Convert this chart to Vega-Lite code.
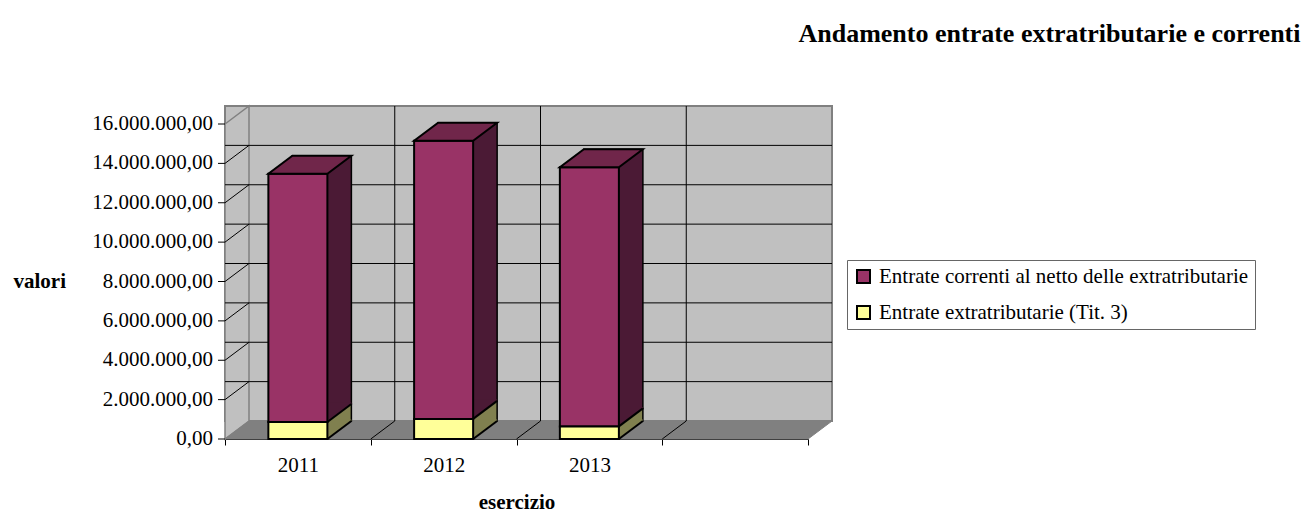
{
  "$schema": "https://vega.github.io/schema/vega-lite/v6.json",
  "width": 583,
  "height": 315,
  "autosize": {"type": "none"},
  "padding": {"left": 225, "top": 124, "right": 494, "bottom": 90},
  "background": "white",
  "config": {
    "view": {"stroke": null},
    "font": "Liberation Serif",
    "locale": {"number": {"decimal": ",", "thousands": ".", "grouping": [3], "currency": ["", " €"]}},
    "axisX": {
      "labelAngle": 0, "labelFont": "Liberation Serif", "labelFontSize": 21, "labelColor": "black", "labelPadding": 9,
      "titleFont": "Liberation Serif", "titleFontSize": 21, "titleFontWeight": "bold", "titleColor": "black", "titlePadding": 16,
      "tickBand": "extent", "tickSize": 6, "tickColor": "black", "domainColor": "black", "grid": false
    },
    "axisY": {
      "labels": false, "ticks": false,
      "titleFont": "Liberation Serif", "titleFontSize": 21, "titleFontWeight": "bold", "titleColor": "black",
      "domainColor": "black", "grid": false
    }
  },
  "title": {
    "text": "Andamento entrate extratributarie e correnti",
    "anchor": "end",
    "frame": "bounds",
    "font": "Liberation Serif",
    "fontSize": 26,
    "fontWeight": "bold",
    "color": "black",
    "dx": 45,
    "offset": 56
  },
  "datasets": {
    "bars": [
      {"year": "2011", "series": "Entrate correnti al netto delle extratributarie", "value": 12610000},
      {"year": "2011", "series": "Entrate extratributarie (Tit. 3)", "value": 860000},
      {"year": "2012", "series": "Entrate correnti al netto delle extratributarie", "value": 14130000},
      {"year": "2012", "series": "Entrate extratributarie (Tit. 3)", "value": 1020000},
      {"year": "2013", "series": "Entrate correnti al netto delle extratributarie", "value": 13160000},
      {"year": "2013", "series": "Entrate extratributarie (Tit. 3)", "value": 640000}
    ],
    "ticks": [{"v": 0}, {"v": 2000000}, {"v": 4000000}, {"v": 6000000}, {"v": 8000000}, {"v": 10000000}, {"v": 12000000}, {"v": 14000000}, {"v": 16000000}],
    "cats": [{"c": "2012"}, {"c": "2013"}, {"c": " "}],
    "base": [{"c": "2011"}]
  },
  "layer": [
    {
      "data": {"name": "base"},
      "mark": {"type": "rect", "xOffset": 24, "x2Offset": 24, "yOffset": -18, "y2Offset": -18, "fill": "#C0C0C0", "stroke": "#808080", "strokeWidth": 2},
      "encoding": {
        "y": {
          "datum": 0, "type": "quantitative", "scale": {"domain": [0, 16000000], "nice": false},
          "axis": {"title": "valori", "titleAngle": 0, "titleAlign": "left", "titleBaseline": "middle", "titleX": -212, "titleY": 157}
        },
        "y2": {"datum": 16000000}
      }
    },
    {
      "data": {"name": "base"},
      "mark": {"type": "point", "shape": "M-72.875,0 L-72.875,-315 L-48.875,-333 L-48.875,-18 Z", "size": 4, "filled": true, "opacity": 1, "fill": "#C0C0C0", "stroke": "#808080", "strokeWidth": 1.5},
      "encoding": {
        "x": {"field": "c", "type": "nominal", "scale": {"domain": ["2011", "2012", "2013", " "], "paddingInner": 0, "paddingOuter": 0}},
        "y": {"datum": 0, "type": "quantitative", "scale": {"domain": [0, 16000000], "nice": false}}
      }
    },
    {
      "data": {"name": "base"},
      "mark": {"type": "point", "shape": "M-72.875,0 L510.125,0 L534.125,-18 L-48.875,-18 Z", "size": 4, "filled": true, "opacity": 1, "fill": "#808080", "stroke": "#808080", "strokeWidth": 1},
      "encoding": {
        "x": {"field": "c", "type": "nominal", "scale": {"domain": ["2011", "2012", "2013", " "], "paddingInner": 0, "paddingOuter": 0}},
        "y": {"datum": 0, "type": "quantitative", "scale": {"domain": [0, 16000000], "nice": false}}
      }
    },
    {
      "data": {"name": "ticks"},
      "transform": [{"filter": "datum.v > 0 && datum.v < 16000000"}],
      "mark": {"type": "rule", "xOffset": 24, "x2Offset": 24, "yOffset": -18, "y2Offset": -18, "color": "black", "strokeWidth": 1},
      "encoding": {
        "y": {"field": "v", "type": "quantitative", "scale": {"domain": [0, 16000000], "nice": false}}
      }
    },
    {
      "data": {"name": "cats"},
      "mark": {"type": "rule", "xOffset": -48.875, "yOffset": -18, "y2Offset": -18, "color": "black", "strokeWidth": 1},
      "encoding": {
        "x": {"field": "c", "type": "nominal", "scale": {"domain": ["2011", "2012", "2013", " "], "paddingInner": 0, "paddingOuter": 0}},
        "y": {"datum": 0, "type": "quantitative", "scale": {"domain": [0, 16000000], "nice": false}},
        "y2": {"datum": 16000000}
      }
    },
    {
      "data": {"name": "ticks"},
      "transform": [{"filter": "datum.v > 0 && datum.v < 16000000"}],
      "mark": {"type": "point", "shape": "M-72.875,0 L-48.875,-18", "size": 4, "filled": false, "opacity": 1, "stroke": "black", "strokeWidth": 1},
      "encoding": {
        "x": {"datum": "2011", "type": "nominal", "scale": {"domain": ["2011", "2012", "2013", " "], "paddingInner": 0, "paddingOuter": 0}},
        "y": {"field": "v", "type": "quantitative", "scale": {"domain": [0, 16000000], "nice": false}}
      }
    },
    {
      "data": {"name": "ticks"},
      "mark": {"type": "point", "shape": "M-79.875,0 L-72.875,0", "size": 4, "filled": false, "opacity": 1, "stroke": "black", "strokeWidth": 1},
      "encoding": {
        "x": {"datum": "2011", "type": "nominal", "scale": {"domain": ["2011", "2012", "2013", " "], "paddingInner": 0, "paddingOuter": 0}},
        "y": {"field": "v", "type": "quantitative", "scale": {"domain": [0, 16000000], "nice": false}}
      }
    },
    {
      "data": {"name": "ticks"},
      "mark": {"type": "text", "align": "right", "baseline": "middle", "dx": -84.875, "font": "Liberation Serif", "fontSize": 21, "color": "black"},
      "encoding": {
        "x": {"datum": "2011", "type": "nominal", "scale": {"domain": ["2011", "2012", "2013", " "], "paddingInner": 0, "paddingOuter": 0}},
        "y": {"field": "v", "type": "quantitative", "scale": {"domain": [0, 16000000], "nice": false}},
        "text": {"field": "v", "type": "quantitative", "format": ",.2f"}
      }
    },
    {
      "data": {"name": "cats"},
      "mark": {"type": "point", "shape": "M-72.875,0 L-48.875,-18", "size": 4, "filled": false, "opacity": 1, "stroke": "black", "strokeWidth": 1},
      "encoding": {
        "x": {"field": "c", "type": "nominal", "scale": {"domain": ["2011", "2012", "2013", " "], "paddingInner": 0, "paddingOuter": 0}},
        "y": {"datum": 0, "type": "quantitative", "scale": {"domain": [0, 16000000], "nice": false}}
      }
    },
    {
      "data": {"name": "bars"},
      "transform": [
        {"stack": "value", "groupby": ["year"], "sort": [{"field": "series", "order": "descending"}], "as": ["v0", "v1"]}
      ],
      "layer": [
        {
          "transform": [{"filter": "datum.series === 'Entrate extratributarie (Tit. 3)'"}],
          "mark": {"type": "bar", "xOffset": 24, "x2Offset": 24, "yOffset": -18, "y2Offset": -18, "width": {"band": 0.405}, "fill": "#80804F", "stroke": "black", "strokeWidth": 1.5},
          "encoding": {
            "x": {"field": "year", "type": "nominal", "scale": {"domain": ["2011", "2012", "2013", " "], "paddingInner": 0, "paddingOuter": 0}},
            "y": {"field": "v1", "type": "quantitative", "scale": {"domain": [0, 16000000], "nice": false}},
            "y2": {"field": "v0"}
          }
        },
        {
          "transform": [{"filter": "datum.series === 'Entrate correnti al netto delle extratributarie'"}],
          "mark": {"type": "bar", "xOffset": 24, "x2Offset": 24, "yOffset": -18, "y2Offset": -18, "width": {"band": 0.405}, "fill": "#4B1A35", "stroke": "black", "strokeWidth": 1.5},
          "encoding": {
            "x": {"field": "year", "type": "nominal", "scale": {"domain": ["2011", "2012", "2013", " "], "paddingInner": 0, "paddingOuter": 0}},
            "y": {"field": "v1", "type": "quantitative", "scale": {"domain": [0, 16000000], "nice": false}},
            "y2": {"field": "v0"}
          }
        },
        {
          "transform": [{"filter": "datum.series === 'Entrate extratributarie (Tit. 3)'"}],
          "mark": {"type": "point", "shape": "M29.5,0 L53.5,-18 L53.5,-19.5 L29.5,-19.5 Z", "size": 4, "filled": true, "opacity": 1, "fill": "#80804F", "strokeWidth": 0},
          "encoding": {
            "x": {"field": "year", "type": "nominal", "scale": {"domain": ["2011", "2012", "2013", " "], "paddingInner": 0, "paddingOuter": 0}},
            "y": {"field": "v0", "type": "quantitative", "scale": {"domain": [0, 16000000], "nice": false}}
          }
        },
        {
          "transform": [{"filter": "datum.series === 'Entrate correnti al netto delle extratributarie'"}],
          "mark": {"type": "point", "shape": "M29.5,0 L53.5,-18 L53.5,-19.5 L29.5,-19.5 Z", "size": 4, "filled": true, "opacity": 1, "fill": "#4B1A35", "strokeWidth": 0},
          "encoding": {
            "x": {"field": "year", "type": "nominal", "scale": {"domain": ["2011", "2012", "2013", " "], "paddingInner": 0, "paddingOuter": 0}},
            "y": {"field": "v0", "type": "quantitative", "scale": {"domain": [0, 16000000], "nice": false}}
          }
        },
        {
          "mark": {"type": "bar", "width": {"band": 0.405}, "stroke": "black", "strokeWidth": 2},
          "encoding": {
            "x": {
              "field": "year", "type": "nominal",
              "scale": {"domain": ["2011", "2012", "2013", " "], "paddingInner": 0, "paddingOuter": 0},
              "axis": {"title": "esercizio", "bandPosition": 0.5, "labelAlign": "center"}
            },
            "y": {
              "field": "v1", "type": "quantitative",
              "scale": {"domain": [0, 16000000], "nice": false},
              "axis": {"title": "valori", "titleAngle": 0, "titleAlign": "left", "titleBaseline": "middle", "titleX": -212, "titleY": 157}
            },
            "y2": {"field": "v0"},
            "color": {
              "field": "series", "type": "nominal",
              "scale": {"domain": ["Entrate correnti al netto delle extratributarie", "Entrate extratributarie (Tit. 3)"], "range": ["#993366", "#FFFF99"]},
              "legend": {
                "title": null, "orient": "none", "legendX": 622, "legendY": 136,
                "strokeColor": "#666666", "fillColor": "white", "padding": 6,
                "symbolType": "square", "symbolSize": 169, "symbolStrokeColor": "black", "symbolStrokeWidth": 2, "symbolOpacity": 1,
                "labelFont": "Liberation Serif", "labelFontSize": 21, "labelColor": "black", "labelOffset": 5, "rowPadding": 14, "labelLimit": 600
              }
            }
          }
        },
        {
          "transform": [{"filter": "datum.series === 'Entrate correnti al netto delle extratributarie'"}],
          "mark": {"type": "point", "shape": "M-29.5,0 L29.5,0 L53.5,-18 L-5.5,-18 Z", "size": 4, "filled": true, "opacity": 1, "fill": "#70264A", "stroke": "black", "strokeWidth": 2},
          "encoding": {
            "x": {"field": "year", "type": "nominal", "scale": {"domain": ["2011", "2012", "2013", " "], "paddingInner": 0, "paddingOuter": 0}},
            "y": {"field": "v1", "type": "quantitative", "scale": {"domain": [0, 16000000], "nice": false}}
          }
        },
        {
          "mark": {"type": "point", "shape": "M29.5,0 L53.5,-18", "size": 4, "filled": false, "opacity": 1, "stroke": "black", "strokeWidth": 2},
          "encoding": {
            "x": {"field": "year", "type": "nominal", "scale": {"domain": ["2011", "2012", "2013", " "], "paddingInner": 0, "paddingOuter": 0}},
            "y": {"field": "v0", "type": "quantitative", "scale": {"domain": [0, 16000000], "nice": false}}
          }
        }
      ]
    }
  ]
}
